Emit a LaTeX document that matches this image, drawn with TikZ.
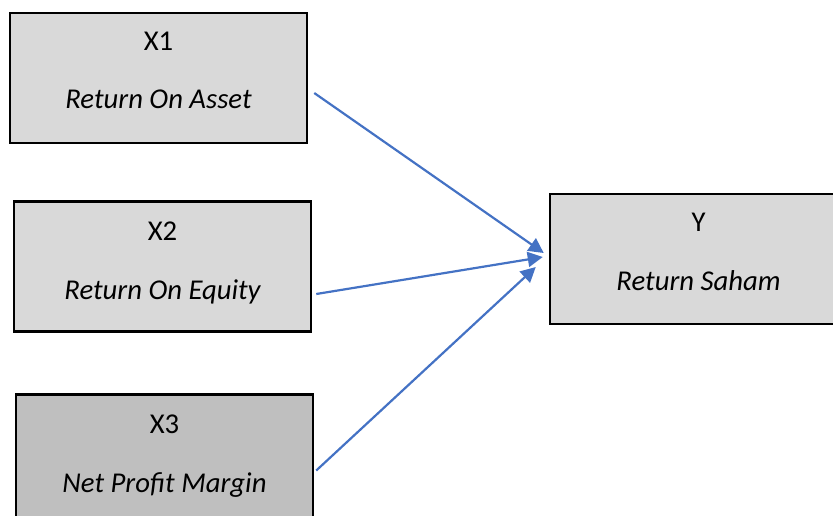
\documentclass[tikz,border=0pt]{standalone}
\usepackage{fontspec}
\setmainfont{Carlito}
\usetikzlibrary{arrows.meta}
\definecolor{boxgray}{HTML}{D9D9D9}
\definecolor{darkgray}{HTML}{BFBFBF}
\definecolor{arrowblue}{RGB}{68,114,196}
\begin{document}
\begin{tikzpicture}[x=1pt,y=-1pt,
  box/.style={draw=black, line width=2.5pt, fill=boxgray, minimum width=297pt, minimum height=130pt, inner sep=0pt},
  lbl/.style={font=\fontsize{28.7}{34}\selectfont, anchor=base, inner sep=0pt},
  conn/.style={draw=arrowblue, line width=2.2pt, -{Triangle[length=15pt,width=15pt]}}]
\useasboundingbox (0,0) rectangle (833,515);
\node[box] (x1) at (158.5,78) {};
\node[box] (x2) at (162.5,266.5) {};
\node[box, fill=darkgray] (x3) at (164.5,459.5) {};
\node[box] (y) at (698.5,259) {};
\node[lbl] (x1a) at ([yshift=-39pt]x1.north) {X1};
\node[lbl] (x1b) at ([yshift=-97pt]x1.north) {\itshape Return On Asset};
\node[lbl] (x2a) at ([yshift=-40pt]x2.north) {X2};
\node[lbl] (x2b) at ([yshift=-99pt]x2.north) {\itshape Return On Equity};
\node[lbl] (x3a) at ([yshift=-40pt]x3.north) {X3};
\node[lbl] (x3b) at ([yshift=-99pt]x3.north) {\itshape Net Profit Margin};
\node[lbl] (ya) at ([yshift=-39pt]y.north) {Y};
\node[lbl] (yb) at ([yshift=-98pt]y.north) {\itshape Return Saham};
\coordinate (s1) at ([xshift=6pt,yshift=-15pt]x1.east);
\coordinate (s2) at ([xshift=4pt,yshift=-27.5pt]x2.east);
\coordinate (s3) at ([xshift=2pt,yshift=-11pt]x3.east);
\coordinate (e1) at ([xshift=-5pt,yshift=6pt]y.west);
\coordinate (e2) at ([xshift=-6pt,yshift=2pt]y.west);
\coordinate (e3) at ([xshift=-13pt,yshift=-8pt]y.west);
\draw[conn] (s1) -- (e1);
\draw[conn] (s2) -- (e2);
\draw[conn] (s3) -- (e3);
\end{tikzpicture}
\end{document}
